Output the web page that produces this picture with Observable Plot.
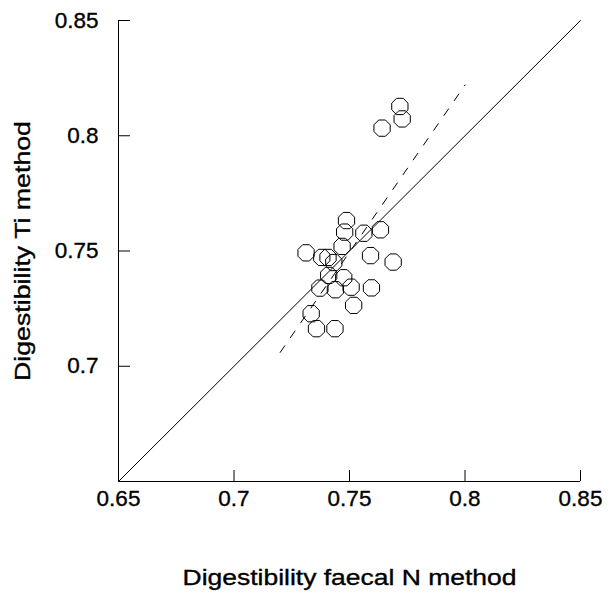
<!DOCTYPE html>
<html><head><meta charset="utf-8">
<script src="https://cdn.jsdelivr.net/npm/d3@7"></script>
<script src="https://cdn.jsdelivr.net/npm/@observablehq/plot@0.6"></script>
<style>body{margin:0;background:#fff} svg text{stroke:#000;stroke-width:0.35px}</style>
</head><body><div id="chart"></div>
<script>
const faecalN = [0.7487,0.7479,0.7562,0.7634,0.7468,0.7312,0.7380,0.7407,0.7432,0.7591,0.7689,0.7410,0.7475,0.7372,0.7439,0.7507,0.7595,0.7518,0.7334,0.7357,0.7437,0.7718,0.7728,0.7641];
const tiMethod = [0.7632,0.7582,0.7577,0.7592,0.7520,0.7492,0.7472,0.7472,0.7450,0.7480,0.7452,0.7394,0.7384,0.7339,0.7332,0.7343,0.7340,0.7264,0.7228,0.7163,0.7163,0.8127,0.8073,0.8033];
const xTicks = [0.65,0.7,0.75,0.8,0.85];
const yTicks = [0.7,0.75,0.8,0.85];
const identity = [0.65,0.85];
const fitX = [0.72,0.80];
const fitY = [0.706,0.822];
const xLabel = "Digestibility faecal N method";
const yLabel = "Digestibility Ti method";

const points = faecalN.map((x,i)=>({x, y: tiMethod[i]}));
const idLine = identity.map(v=>({x:v,y:v}));
const fitLine = fitX.map((x,i)=>({x, y: fitY[i]}));

const octagon = {
  draw(context, size) {
    const r = Math.sqrt(size/Math.PI);
    for (let k=0;k<8;k++){
      const a = Math.PI/8 + k*Math.PI/4;
      const px = r*Math.cos(a), py = r*Math.sin(a);
      if (k===0) context.moveTo(px,py); else context.lineTo(px,py);
    }
    context.closePath();
  }
};

const chart = Plot.plot({
  width: 608, height: 592,
  marginLeft: 118, marginRight: 28, marginTop: 20, marginBottom: 111,
  style: {fontFamily: "'Liberation Sans', Arial, sans-serif", fontSize: "22px", color: "#000", background: "#fff"},
  x: {domain: [0.65,0.85]},
  y: {domain: [0.65,0.85]},
  marks: [
    Plot.axisX({ticks: xTicks, tickFormat: d=>String(d), tickSize: -11, tickPadding: 20, label: xLabel, labelArrow: "none", labelAnchor: "center", labelOffset: 103, fontSize: 22.5}),
    Plot.axisY({ticks: yTicks, tickFormat: d=>String(d), tickSize: -12, tickPadding: 32, label: yLabel, labelArrow: "none", labelAnchor: "center", labelOffset: 104, fontSize: 22.5}),
    Plot.ruleX([0.65], {stroke: "#000"}),
    Plot.ruleY([0.65], {stroke: "#000"}),
    Plot.line(idLine, {x: "x", y: "y", stroke: "#000", strokeWidth: 1}),
    Plot.line(fitLine, {x: "x", y: "y", stroke: "#000", strokeWidth: 1, strokeDasharray: "8,10"}),
    Plot.dot(points, {x: "x", y: "y", symbol: octagon, r: 8.8, stroke: "#000", fill: "none", strokeWidth: 1})
  ]
});
document.getElementById("chart").appendChild(chart);
for (const [sel, len] of [['g[aria-label="x-axis label"] text', 334], ['g[aria-label="y-axis label"] text', 260]]) {
  const t = chart.querySelector(sel);
  if (t) {
    t.textContent = t.textContent.replace(/\s*[→↑←↓]\s*/g, "").trim();
    t.setAttribute("textLength", len);
    t.setAttribute("lengthAdjust", "spacingAndGlyphs");
  }
}
</script>
</body></html>
